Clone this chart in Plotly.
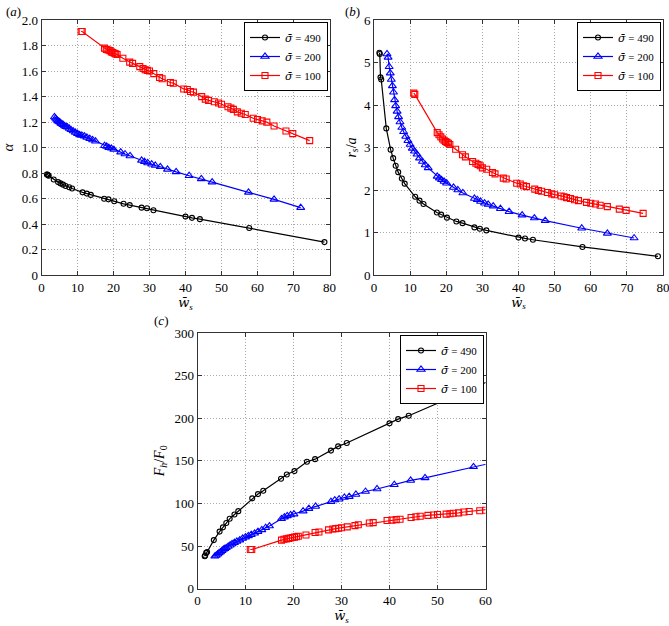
import plotly.graph_objects as go

# ---------------- data ----------------
# sigma = 490 (black circles)
ws_490 = [1.5, 1.6, 1.8, 2.0, 3.4, 4.6, 5.3, 6.0, 6.7, 7.7, 8.5, 11.4, 12.6, 13.7, 17.4, 18.6,
          20.2, 22.8, 24.5, 27.8, 29.3, 31.1, 40.0, 41.8, 44.0, 57.7, 78.6]
alpha_490 = [0.79, 0.79, 0.785, 0.78, 0.75, 0.73, 0.72, 0.71, 0.70, 0.69, 0.68, 0.65, 0.64, 0.63,
             0.60, 0.595, 0.58, 0.56, 0.55, 0.53, 0.525, 0.51, 0.46, 0.45, 0.44, 0.37, 0.26]
rs_490 = [5.23, 5.2, 4.65, 4.6, 3.45, 2.95, 2.75, 2.57, 2.42, 2.27, 2.15, 1.84, 1.75, 1.67, 1.47,
          1.42, 1.35, 1.26, 1.22, 1.12, 1.09, 1.05, 0.88, 0.86, 0.83, 0.66, 0.44]
fh_490 = [38, 39, 42, 43, 57, 67, 72, 77, 82, 87, 91, 106, 111, 115, 129, 134, 138, 149, 152,
          162, 167, 171, 194, 199, 203, 237, 287]

# sigma = 200 (blue triangles)
ws_200 = [3.6, 3.9, 4.2, 4.5, 4.8, 5.1, 5.4, 5.7, 6.0, 6.4, 6.8, 7.2, 7.7, 8.2, 8.8, 9.4, 10.0,
          10.6, 11.2, 11.9, 12.6, 13.4, 14.2, 15.0, 17.5, 18.1, 18.7, 19.4, 20.1, 22.0, 23.2, 24.6,
          27.8, 28.6, 29.5, 30.6, 31.6, 33.0, 35.0, 37.4, 41.0, 44.4, 47.4, 57.5, 64.6, 72.0]
alpha_200 = [1.24, 1.23, 1.22, 1.21, 1.205, 1.20, 1.19, 1.185, 1.18, 1.17, 1.165, 1.16, 1.15, 1.14,
             1.13, 1.12, 1.11, 1.10, 1.095, 1.09, 1.08, 1.07, 1.06, 1.05, 1.015, 1.01, 1.00, 0.995,
             0.985, 0.965, 0.95, 0.935, 0.90, 0.89, 0.88, 0.87, 0.86, 0.85, 0.83, 0.81, 0.78,
             0.755, 0.73, 0.65, 0.595, 0.53]
rs_200 = [5.2, 5.12, 4.9, 4.75, 4.6, 4.45, 4.3, 4.12, 3.98, 3.85, 3.72, 3.6, 3.47, 3.37, 3.26,
          3.16, 3.07, 2.98, 2.91, 2.84, 2.75, 2.67, 2.59, 2.52, 2.32, 2.28, 2.24, 2.2, 2.16, 2.06,
          2.0, 1.93, 1.8, 1.77, 1.73, 1.69, 1.66, 1.62, 1.56, 1.49, 1.41, 1.34, 1.28, 1.1, 0.98, 0.87]
fh_200 = [38, 39, 40.5, 42, 43, 44.5, 46, 47, 48, 49.5, 51, 52.5, 54, 55.5, 57, 59, 60.5, 62, 63.5,
          65, 67, 69, 71.5, 73.5, 82, 84, 85.5, 86.5, 87.5, 91, 94, 96.5, 102, 104, 105, 107, 108,
          110.5, 114, 117, 122, 127, 130, 143, 152, 161]

# sigma = 100 (red squares)
ws_100 = [11.0, 11.3, 17.5, 18.0, 18.5, 19.0, 19.4, 19.8, 20.2, 20.6, 21.0, 22.6, 24.5, 25.3, 27.3,
          28.2, 28.8, 29.4, 30.0, 31.2, 32.8, 33.5, 35.8, 36.6, 39.5, 40.5, 41.4, 42.2, 44.5, 45.5,
          46.4, 48.0, 49.2, 50.0, 51.8, 52.6, 53.3, 54.4, 55.5, 56.6, 58.8, 60.0, 61.3, 62.6, 64.6,
          67.9, 69.8, 74.5]
alpha_100 = [1.91, 1.91, 1.78, 1.77, 1.765, 1.76, 1.75, 1.745, 1.74, 1.735, 1.73, 1.70, 1.67, 1.66,
             1.635, 1.62, 1.61, 1.605, 1.60, 1.58, 1.55, 1.54, 1.51, 1.505, 1.46, 1.455, 1.44,
             1.435, 1.40, 1.38, 1.37, 1.36, 1.35, 1.34, 1.32, 1.31, 1.30, 1.28, 1.27, 1.26, 1.23,
             1.22, 1.21, 1.20, 1.17, 1.13, 1.11, 1.055]
rs_100 = [4.28, 4.25, 3.35, 3.3, 3.25, 3.2, 3.17, 3.14, 3.12, 3.1, 3.07, 2.96, 2.83, 2.78, 2.67,
          2.63, 2.6, 2.57, 2.52, 2.49, 2.41, 2.38, 2.28, 2.26, 2.16, 2.14, 2.1, 2.08, 2.02, 1.99,
          1.97, 1.94, 1.91, 1.89, 1.86, 1.84, 1.82, 1.80, 1.77, 1.75, 1.71, 1.69, 1.67, 1.64, 1.61,
          1.55, 1.52, 1.45]
fh_100 = [46, 46, 57, 58, 58.5, 59, 59.5, 60, 60.5, 61, 61.5, 63, 66, 66.5, 69, 70, 70.5, 71, 71.5,
          72.5, 74, 75, 77, 77.5, 80, 80.5, 81, 81.5, 83.5, 84.5, 85, 86, 86.5, 87, 87.5, 88, 88.5,
          89, 90, 90.5, 91.5, 92, 93, 94, 95, 97, 98.5, 101]

SIG = '<span style="font-family:DejaVu Serif"><i>σ̄</i></span>'
legend_names = [SIG + " = 490", SIG + " = 200", SIG + " = 100"]

# tick labels
ticks_x80 = [0, 10, 20, 30, 40, 50, 60, 70, 80]
ticks_x60 = [0, 10, 20, 30, 40, 50, 60]
ticks_alpha = [0, 0.2, 0.4, 0.6, 0.8, 1.0, 1.2, 1.4, 1.6, 1.8, 2.0]
ticklabels_alpha = ["0", "0.2", "0.4", "0.6", "0.8", "1.0", "1.2", "1.4", "1.6", "1.8", "2.0"]
ticks_rs = [0, 1, 2, 3, 4, 5, 6]
ticks_fh = [0, 50, 100, 150, 200, 250, 300]

# ---------------- figure ----------------
FONT = "Liberation Serif"
colors = ["#000000", "#0000ff", "#ff0000"]
symbols = ["circle-open", "triangle-up-open", "square-open"]
msizes = [5, 7, 6]

series_x = [ws_490, ws_200, ws_100]
panels = [
    ([alpha_490, alpha_200, alpha_100], "x", "y", "legend"),
    ([rs_490, rs_200, rs_100], "x2", "y2", "legend2"),
    ([fh_490, fh_200, fh_100], "x3", "y3", "legend3"),
]

fig = go.Figure()
for ys, xa, ya, lg in panels:
    for i in range(3):
        fig.add_trace(go.Scatter(
            x=series_x[i], y=ys[i], xaxis=xa, yaxis=ya, legend=lg,
            mode="lines+markers", name=legend_names[i],
            line=dict(color=colors[i], width=1.2),
            marker=dict(symbol=symbols[i], size=msizes[i], color=colors[i],
                        line=dict(width=1.1, color=colors[i])),
        ))

W, H = 669, 626


def px(v):
    return v / W


def py(v):
    return 1 - v / H


axis_common = dict(
    showline=True, linecolor="#333333", linewidth=1, mirror="ticks",
    ticks="inside", ticklen=4, tickcolor="#333333",
    showgrid=True, gridcolor="#a8a8a8", griddash="1px,2px", gridwidth=1,
    zeroline=False, automargin=False, ticklabeloverflow="allow",
    tickfont=dict(family=FONT, size=13, color="black"),
)

wlabel = '<span style="font-family:DejaVu Serif"><i>w̄</i></span><sub><i>s</i></sub>'

layout = dict(
    width=W, height=H, margin=dict(l=0, r=0, t=0, b=0),
    paper_bgcolor="white", plot_bgcolor="white",
    font=dict(family=FONT, color="black"),
    xaxis=dict(axis_common, domain=[px(41.5), px(329.5)], anchor="y", range=[0, 80],
               tickvals=ticks_x80, title=dict(text=wlabel, standoff=0,
                                             font=dict(family=FONT, size=13))),
    yaxis=dict(axis_common, domain=[py(275.3), py(20)], anchor="x", range=[0, 2.0],
               tickvals=ticks_alpha, ticktext=ticklabels_alpha,
               title=dict(text="<i>α</i>", standoff=6, font=dict(family=FONT, size=15))),
    xaxis2=dict(axis_common, domain=[px(374), px(663)], anchor="y2", range=[0, 80],
                tickvals=ticks_x80, title=dict(text=wlabel, standoff=0,
                                              font=dict(family=FONT, size=13))),
    yaxis2=dict(axis_common, domain=[py(275), py(20)], anchor="x2", range=[0, 6],
                tickvals=ticks_rs,
                title=dict(text="<i>r</i><sub><i>s</i></sub>/<i>a</i>", standoff=4,
                           font=dict(family=FONT, size=14))),
    xaxis3=dict(axis_common, domain=[px(197.5), px(485.5)], anchor="y3", range=[0, 60],
                tickvals=ticks_x60, title=dict(text=wlabel, standoff=0,
                                              font=dict(family=FONT, size=13))),
    yaxis3=dict(axis_common, domain=[py(588.7), py(333)], anchor="x3", range=[0, 300],
                tickvals=ticks_fh,
                title=dict(text="<i>F</i><sub><i>h</i></sub>/<i>F</i><sub>0</sub>", standoff=6,
                           font=dict(family=FONT, size=14))),
)

leg_common = dict(
    bgcolor="white", bordercolor="black", borderwidth=1,
    font=dict(family=FONT, size=11, color="black"),
    xanchor="right", yanchor="top", tracegroupgap=0, itemwidth=30,
)
layout["legend"] = dict(leg_common, x=px(328), y=py(22))
layout["legend2"] = dict(leg_common, x=px(661), y=py(22))
layout["legend3"] = dict(leg_common, x=px(484), y=py(335))

layout["annotations"] = [
    dict(text="(<i>a</i>)", x=px(4), y=py(2), xref="paper", yref="paper",
         xanchor="left", yanchor="top", showarrow=False, font=dict(family=FONT, size=13)),
    dict(text="(<i>b</i>)", x=px(343), y=py(2), xref="paper", yref="paper",
         xanchor="left", yanchor="top", showarrow=False, font=dict(family=FONT, size=13)),
    dict(text="(<i>c</i>)", x=px(152), y=py(311), xref="paper", yref="paper",
         xanchor="left", yanchor="top", showarrow=False, font=dict(family=FONT, size=13)),
]

fig.update_layout(**layout)
fig.write_html("out.html", config={"displayModeBar": False},
               post_script="document.body.style.margin='0';document.body.style.padding='0';")
